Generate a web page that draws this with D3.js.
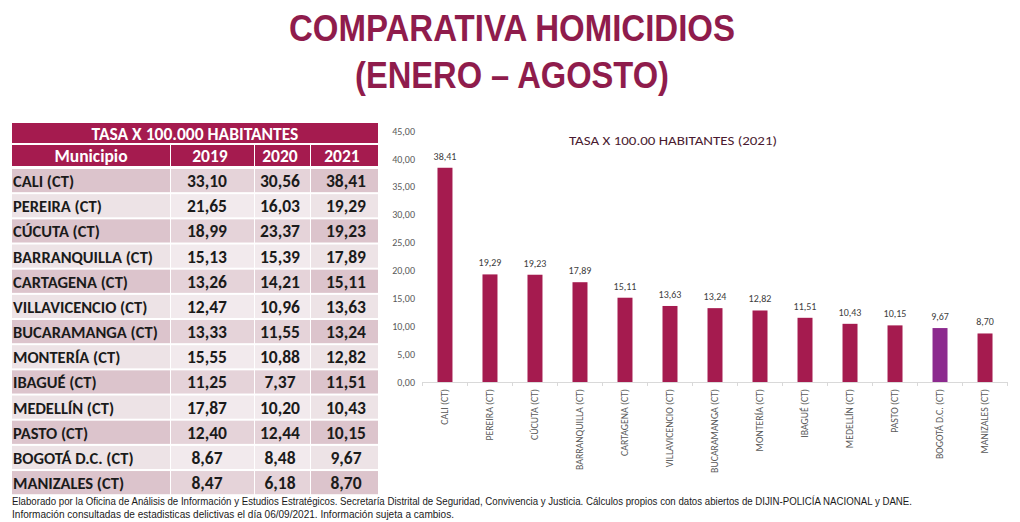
<!DOCTYPE html>
<html>
<head>
<meta charset="utf-8">
<title>Comparativa homicidios</title>
<script src="https://cdn.jsdelivr.net/npm/d3@7"></script>
<style>
  body { margin: 0; background: #fff; }
  svg { display: block; }
</style>
</head>
<body>
<div id="chart"></div>
<script>
// municipios (same order in table and in chart)
var municipios = ["CALI (CT)", "PEREIRA (CT)", "CÚCUTA (CT)", "BARRANQUILLA (CT)", "CARTAGENA (CT)",
  "VILLAVICENCIO (CT)", "BUCARAMANGA (CT)", "MONTERÍA (CT)", "IBAGUÉ (CT)", "MEDELLÍN (CT)",
  "PASTO (CT)", "BOGOTÁ D.C. (CT)", "MANIZALES (CT)"];
var tasa2019 = [33.10, 21.65, 18.99, 15.13, 13.26, 12.47, 13.33, 15.55, 11.25, 17.87, 12.40, 8.67, 8.47];
var tasa2020 = [30.56, 16.03, 23.37, 15.39, 14.21, 10.96, 11.55, 10.88, 7.37, 10.20, 12.44, 8.48, 6.18];
var tasa2021 = [38.41, 19.29, 19.23, 17.89, 15.11, 13.63, 13.24, 12.82, 11.51, 10.43, 10.15, 9.67, 8.70];
var years = ["2019", "2020", "2021"];
var yTicks = [0, 5, 10, 15, 20, 25, 30, 35, 40, 45];
var destacado = "BOGOTÁ D.C. (CT)";

var W = 1020, H = 522;
var maroon = "#a51b4f", purple = "#8c2a8e", titleCol = "#8f1c4c";
var fmt = function (v) { return d3.format(".2f")(v).replace(".", ","); };

var svg = d3.select("#chart").append("svg").attr("width", W).attr("height", H);

// ---- title
svg.append("text").attr("x", 512).attr("y", 41).attr("text-anchor", "middle")
  .attr("font-family", "'Liberation Sans Narrow', 'Arial Narrow', sans-serif")
  .attr("font-weight", "bold").attr("font-size", 37).attr("fill", titleCol)
  .attr("textLength", 446).attr("lengthAdjust", "spacingAndGlyphs")
  .text("COMPARATIVA HOMICIDIOS");
svg.append("text").attr("x", 512).attr("y", 88).attr("text-anchor", "middle")
  .attr("font-family", "'Liberation Sans Narrow', 'Arial Narrow', sans-serif")
  .attr("font-weight", "bold").attr("font-size", 37).attr("fill", titleCol)
  .attr("textLength", 314).attr("lengthAdjust", "spacingAndGlyphs")
  .text("(ENERO  –  AGOSTO)");

// ---- table
var tableFont = "Carlito, Lato, sans-serif";
var colEdges = [12, 170, 254, 310, 378];
var rowTop = 168, rowH = 25.17;
var table = svg.append("g");

table.append("rect").attr("x", 12).attr("y", 123).attr("width", 366).attr("height", 20).attr("fill", maroon);
table.append("text").attr("x", 195).attr("y", 139.5).attr("text-anchor", "middle")
  .attr("font-family", tableFont).attr("font-weight", "bold").attr("font-size", 17.5).attr("fill", "#fff")
  .text("TASA X 100.000 HABITANTES");

var headers = ["Municipio"].concat(years);
headers.forEach(function (h, i) {
  table.append("rect").attr("x", colEdges[i] + (i ? 1 : 0)).attr("y", 145)
    .attr("width", colEdges[i + 1] - colEdges[i] - (i ? 1 : 0)).attr("height", 21).attr("fill", maroon);
  table.append("text").attr("x", i ? (colEdges[i] + colEdges[i + 1]) / 2 - 2 : 91).attr("y", 162)
    .attr("text-anchor", "middle").attr("font-family", tableFont).attr("font-weight", "bold")
    .attr("font-size", 17.5).attr("fill", "#fff").text(h);
});

var cols = [tasa2019, tasa2020, tasa2021];
var numCenters = [207, 280, 346];
municipios.forEach(function (m, r) {
  var y0 = rowTop + r * rowH;
  var odd = r % 2 === 0;
  var fills = odd ? ["#dcc4cc", "#e5d3d9", "#e5d3d9", "#dcc4cc"] : ["#ede3e6", "#f2eaed", "#f2eaed", "#ede3e6"];
  for (var c = 0; c < 4; c++) {
    table.append("rect").attr("x", colEdges[c] + (c ? 1 : 0)).attr("y", y0 + 1)
      .attr("width", colEdges[c + 1] - colEdges[c] - (c ? 1 : 0)).attr("height", rowH - 2)
      .attr("fill", fills[c]);
  }
  table.append("text").attr("x", 13).attr("y", y0 + 19)
    .attr("font-family", tableFont).attr("font-weight", "bold").attr("font-size", 16.5)
    .attr("fill", "#1b1b1b").text(m);
  cols.forEach(function (arr, c) {
    table.append("text").attr("x", numCenters[c]).attr("y", y0 + 19).attr("text-anchor", "middle")
      .attr("font-family", tableFont).attr("font-weight", "bold").attr("font-size", 17.5)
      .attr("fill", "#1b1b1b").text(fmt(arr[r]));
  });
});

// ---- bar chart
var chartFont = "Carlito, 'Open Sans', sans-serif";
var y = d3.scaleLinear().domain([0, 45]).range([382, 131]);
var slot = d3.scaleBand().domain(municipios).range([422.5, 1007.5]);
var x = d3.scaleBand().domain(municipios).range([422.5, 1007.5]).paddingInner(0.667).paddingOuter(0.333);

var yAxis = svg.append("g").attr("transform", "translate(415,0)")
  .call(d3.axisLeft(y).tickValues(yTicks).tickFormat(fmt).tickSize(0).tickPadding(0));
yAxis.select(".domain").remove();
yAxis.selectAll("text").attr("font-family", chartFont).attr("font-size", 10).attr("fill", "#595959");

svg.append("text").attr("x", 673).attr("y", 145).attr("text-anchor", "middle")
  .attr("font-family", chartFont).attr("font-size", 12.5).attr("fill", "#4a1a30")
  .attr("textLength", 208).attr("lengthAdjust", "spacingAndGlyphs")
  .text("TASA X 100.00 HABITANTES (2021)");

svg.selectAll("rect.bar").data(municipios).enter().append("rect").attr("class", "bar")
  .attr("x", function (d) { return x(d); })
  .attr("width", x.bandwidth())
  .attr("y", function (d, i) { return y(tasa2021[i]); })
  .attr("height", function (d, i) { return y(0) - y(tasa2021[i]); })
  .attr("fill", function (d) { return d === destacado ? purple : maroon; });

svg.selectAll("text.val").data(municipios).enter().append("text").attr("class", "val")
  .attr("x", function (d) { return x(d) + x.bandwidth() / 2; })
  .attr("y", function (d, i) { return y(tasa2021[i]) - 8; })
  .attr("text-anchor", "middle").attr("font-family", chartFont).attr("font-size", 10).attr("fill", "#404040")
  .text(function (d, i) { return fmt(tasa2021[i]); });

// x axis line with ticks at category boundaries
var xAxis = svg.append("g").attr("transform", "translate(0," + y(0) + ")")
  .call(d3.axisBottom(slot).tickSize(0).tickFormat(""));
xAxis.select(".domain").attr("stroke", "#d9d9d9");
var bounds = municipios.map(function (d) { return slot(d); }).concat([slot.range()[1]]);
xAxis.selectAll("line.bnd").data(bounds).enter().append("line").attr("class", "bnd")
  .attr("x1", function (d) { return d; }).attr("x2", function (d) { return d; })
  .attr("y1", 0).attr("y2", 4).attr("stroke", "#d9d9d9");

svg.selectAll("text.cat").data(municipios).enter().append("text").attr("class", "cat")
  .attr("transform", function (d) { return "translate(" + (slot(d) + slot.bandwidth() / 2) + ",389) rotate(-90)"; })
  .attr("dy", "0.35em").attr("text-anchor", "end")
  .attr("font-family", chartFont).attr("font-size", 9.8).attr("fill", "#595959")
  .text(function (d) { return d; });

// ---- footer
var notes = [
  "Elaborado por la Oficina de Análisis de Información y Estudios Estratégicos. Secretaría Distrital de Seguridad, Convivencia y Justicia. Cálculos propios con datos abiertos de DIJIN-POLICÍA NACIONAL y DANE.",
  "Información consultadas de estadisticas delictivas el día 06/09/2021. Información sujeta a cambios."
];
var noteLen = [900, 442];
notes.forEach(function (t, i) {
  svg.append("text").attr("x", 12).attr("y", 505 + i * 12.5)
    .attr("font-family", "'Liberation Sans Narrow', 'Arial Narrow', sans-serif").attr("font-size", 10)
    .attr("fill", "#1a1a1a").attr("textLength", noteLen[i]).attr("lengthAdjust", "spacingAndGlyphs")
    .text(t);
});
</script>
</body>
</html>
